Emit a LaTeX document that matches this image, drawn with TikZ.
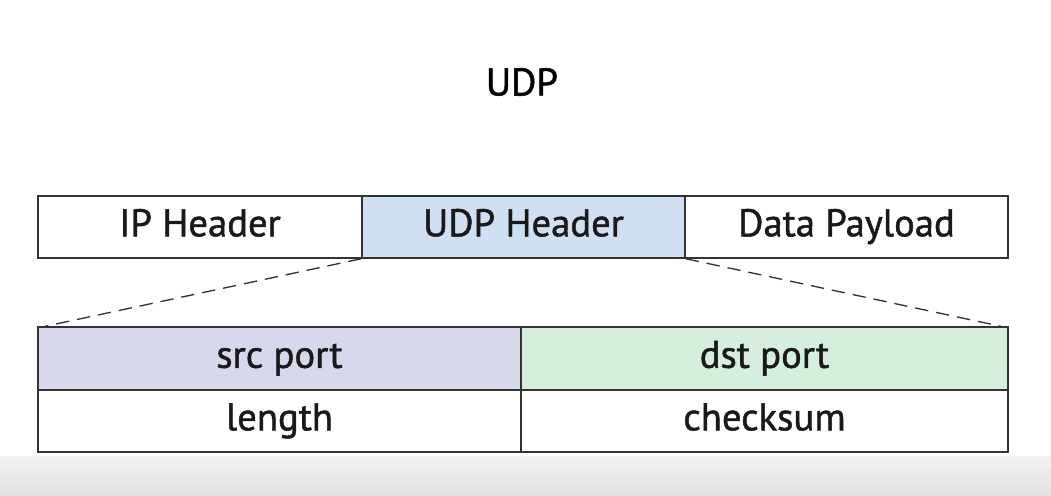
\documentclass[tikz,border=0pt]{standalone}
\usepackage{fontspec}
\setmainfont{PT Sans}
\newfontfamily\cellfont{PT Sans}[FakeBold=1.2]
\definecolor{udpblue}{HTML}{CFE0F2}
\definecolor{srcviolet}{HTML}{D8D8EC}
\definecolor{dstgreen}{HTML}{D6EEDD}
\definecolor{edgegray}{HTML}{333333}
\definecolor{bandtop}{HTML}{F2F2F2}
\definecolor{bandbot}{HTML}{E2E2E2}
\begin{document}
\begin{tikzpicture}[x=0.75pt, y=-0.75pt]

\def \u {0.75pt}

\tikzset{cell/.style = {draw=edgegray, line width=1.1pt, rectangle, inner sep=0pt,
                        font=\cellfont\fontsize{29}{34}\selectfont, text=black!90,
                        text height=20pt, text depth=6pt},
         zoomline/.style = {edgegray, dash pattern=on 10pt off 6pt, line width=1pt}}

\useasboundingbox (0,0) rectangle (1051,496);
\fill[white] (0,0) rectangle (1051,496);
\shade[top color=bandtop, bottom color=bandbot] (0,456) rectangle (1051,496);

\node[font=\cellfont\fontsize{29}{34}\selectfont] (title) at (522, 82) {UDP};

% packet row
\node[cell, minimum width={324*\u}, minimum height={62*\u}] (ip) at (200, 227) {IP Header};
\node[cell, fill=udpblue, minimum width={323*\u}, minimum height={62*\u}] (udp) at (523.5, 227) {UDP Header};
\node[cell, minimum width={323*\u}, minimum height={62*\u}] (data) at (846.5, 227) {Data Payload};

% udp header fields
\node[cell, fill=srcviolet, minimum width={483*\u}, minimum height={63*\u}] (src) at (279.5, 358.5) {src port};
\node[cell, fill=dstgreen, minimum width={487*\u}, minimum height={63*\u}] (dst) at (764.5, 358.5) {dst port};
\node[cell, minimum width={483*\u}, minimum height={62*\u}] (len) at (279.5, 421) {length};
\node[cell, minimum width={487*\u}, minimum height={62*\u}] (chk) at (764.5, 421) {checksum};

\draw[zoomline] (udp.south west) -- ([xshift=6]src.north west);
\draw[zoomline] (udp.south east) -- ([xshift=-6]dst.north east);

\end{tikzpicture}
\end{document}
